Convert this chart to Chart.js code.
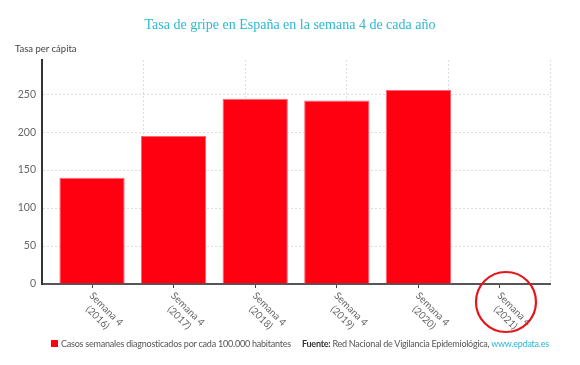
<!DOCTYPE html>
<html>
<head>
<meta charset="utf-8">
<script src="https://cdn.jsdelivr.net/npm/chart.js@4"></script>
<style>
  body { margin: 0; background: #fff; }
  #wrap { position: relative; width: 580px; height: 365px; }
  #chart { position: absolute; left: 0; top: 0; }
  .txt { position: absolute; white-space: nowrap; font-family: Lato, sans-serif; }
  #title { left: 0; width: 580px; top: 17px; text-align: center; font-family: "Liberation Serif", serif; font-size: 14px; color: #2cb8d3; }
  #ytitle { left: 15px; top: 43px; font-size: 9.5px; color: #444; }
  #legend { left: 51px; top: 338px; font-size: 9px; letter-spacing: -0.22px; color: #555; }
  #legend i { display: inline-block; width: 7px; height: 7px; background: #ff0010; margin-right: 3px; vertical-align: 0px; }
  #source { left: 302px; top: 338px; font-size: 9px; letter-spacing: -0.25px; color: #555; }
  #source b { color: #333; }
  #source span { color: #2cb8d3; }
</style>
</head>
<body>
<div id="wrap">
  <canvas id="chart" width="580" height="365"></canvas>
  <div class="txt" id="title">Tasa de gripe en España en la semana 4 de cada año</div>
  <div class="txt" id="ytitle">Tasa per cápita</div>
  <div class="txt" id="legend"></div>
  <div class="txt" id="source"><b>Fuente:</b> Red Nacional de Vigilancia Epidemiológica, <span>www.epdata.es</span></div>
</div>
<script>
const weeks = ["Semana 4", "Semana 4", "Semana 4", "Semana 4", "Semana 4", "Semana 4"];
const years = ["(2016)", "(2017)", "(2018)", "(2019)", "(2020)", "(2021)"];
const cases = [140, 195, 244, 241.5, 255.5, null];
const seriesName = "Casos semanales diagnosticados por cada 100.000 habitantes";
const yTicks = [0, 50, 100, 150, 200, 250];

document.getElementById("legend").innerHTML = "<i></i>" + seriesName;

// rotated two-line labels (Chart.js only rotates the other way) + circle on the last one
const labelsPlugin = {
  id: "labelsPlugin",
  afterDraw(chart) {
    const ctx = chart.ctx;
    const xs = chart.scales.x;
    const base = chart.chartArea.bottom;
    ctx.save();
    ctx.font = "10px Lato";
    ctx.fillStyle = "#666";
    ctx.textAlign = "center";
    ctx.textBaseline = "middle";
    weeks.forEach((w, i) => {
      const x = xs.getPixelForValue(i);
      const maxW = Math.max(ctx.measureText(w).width, ctx.measureText(years[i]).width);
      ctx.save();
      ctx.translate(x - 1, base + 10);
      ctx.rotate(Math.PI / 4);
      ctx.fillText(w, maxW / 2, 0);
      ctx.fillText(years[i], maxW / 2, 12);
      ctx.restore();
    });
    const cx = xs.getPixelForValue(5) + 6;
    ctx.beginPath();
    ctx.arc(cx, base + 18, 30, 0, Math.PI * 2);
    ctx.strokeStyle = "#e3161b";
    ctx.lineWidth = 2.2;
    ctx.stroke();
    ctx.restore();
  }
};

new Chart(document.getElementById("chart"), {
  type: "bar",
  data: {
    datasets: [{
      label: seriesName,
      data: cases.map((v, i) => ({ x: i, y: v })),
      backgroundColor: "#ff0010",
      borderColor: "#ff6470",
      borderWidth: 1,
      barPercentage: 0.8,
      categoryPercentage: 1
    }]
  },
  options: {
    responsive: false,
    animation: false,
    layout: { padding: { top: 60, right: 30, left: 0, bottom: 0 } },
    plugins: { legend: { display: false }, tooltip: { enabled: false } },
    scales: {
      x: {
        type: "linear",
        offset: false,
        min: -0.613,
        max: 5.613,
        afterBuildTicks: s => { s.ticks = yTicks.map((_, i) => ({ value: i })); },
        afterFit: s => { s.height = 81; },
        ticks: { display: false },
        grid: { drawOnChartArea: false, tickLength: 4, color: "#444", offset: false },
        border: { color: "#555", width: 2 }
      },
      xgrid: {
        type: "linear",
        position: "bottom",
        offset: false,
        min: 0,
        max: 5,
        afterFit: s => { s.height = 0; },
        ticks: { display: false, stepSize: 1 },
        grid: { drawTicks: false, color: "#ddd", offset: false },
        border: { display: false, dash: [2, 2] }
      },
      y: {
        min: 0,
        max: 295,
        afterBuildTicks: s => { s.ticks = yTicks.map(v => ({ value: v })); },
        afterFit: s => { s.width = 42; },
        ticks: { color: "#666", font: { family: "Lato", size: 10.5 }, padding: 6 },
        grid: { color: "#ddd", drawTicks: false },
        border: { color: "#333", width: 2, dash: [2, 2] }
      }
    }
  },
  plugins: [labelsPlugin]
});
</script>
</body>
</html>
